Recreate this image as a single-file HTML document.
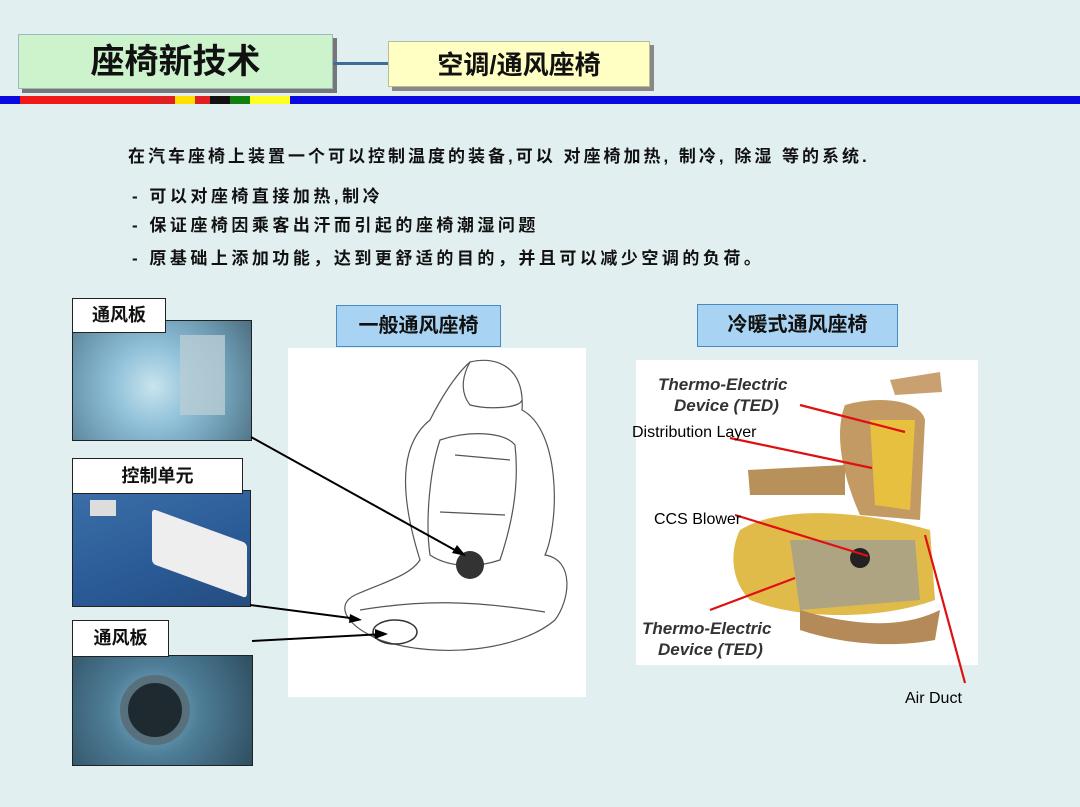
<!DOCTYPE html>
<html><head><meta charset="utf-8"><style>
*{margin:0;padding:0;box-sizing:border-box}
body{width:1080px;height:807px;background:#e2eff1;position:relative;overflow:hidden;font-family:"Liberation Sans","Noto Sans CJK SC",sans-serif}
.a{position:absolute}
.lbl{position:absolute;background:#fff;border:1px solid #222;font-weight:bold;font-size:18px;text-align:center;color:#111}
.tx{position:absolute;font-size:17px;font-weight:bold;color:#111;white-space:nowrap;letter-spacing:3.5px}
.bb{position:absolute;background:#a9d3f2;border:1.5px solid #4a8ac0;font-size:20px;font-weight:bold;text-align:center;color:#111}
</style></head><body>
<div class="a" style="left:22px;top:38px;width:315px;height:55px;background:#777"></div>
<div class="a" style="left:18px;top:34px;width:315px;height:55px;background:#ccf3cc;border:1px solid #9bb;font-size:34px;font-weight:bold;text-align:center;line-height:55px;color:#111">座椅新技术</div>
<div class="a" style="left:333px;top:62px;width:56px;height:3px;background:#3b6f96"></div>
<div class="a" style="left:392px;top:45px;width:262px;height:46px;background:#888"></div>
<div class="a" style="left:388px;top:41px;width:262px;height:46px;background:#ffffc4;border:1px solid #bb9;font-size:26px;font-weight:bold;text-align:center;line-height:46px;color:#111">空调/通风座椅</div>
<div class="a" style="left:0;top:96px;width:1080px;height:8px;background:#0a0ae0"></div>
<div class="a" style="left:20px;top:96px;width:130px;height:8px;background:#f01818"></div>
<div class="a" style="left:150px;top:96px;width:60px;height:8px;background:#e02020"></div>
<div class="a" style="left:175px;top:96px;width:20px;height:8px;background:#ffe000"></div>
<div class="a" style="left:210px;top:96px;width:20px;height:8px;background:#111"></div>
<div class="a" style="left:230px;top:96px;width:20px;height:8px;background:#108010"></div>
<div class="a" style="left:250px;top:96px;width:40px;height:8px;background:#ffff20"></div>

<div class="tx" style="left:128px;top:142px;letter-spacing:3px">在汽车座椅上装置一个可以控制温度的装备,可以 对座椅加热, 制冷, 除湿 等的系统.</div>
<div class="tx" style="left:132px;top:182px">- 可以对座椅直接加热,制冷</div>
<div class="tx" style="left:132px;top:211px">- 保证座椅因乘客出汗而引起的座椅潮湿问题</div>
<div class="tx" style="left:132px;top:244px">- 原基础上添加功能，达到更舒适的目的，并且可以减少空调的负荷。</div>

<div class="a" style="left:72px;top:320px;width:180px;height:121px;border:1px solid #222;background:radial-gradient(circle at 45% 55%,#c8e4ee 0,#8fc0d8 35%,#6a97ae 70%,#4e6e80 100%)"></div>
<div class="a" style="left:180px;top:335px;width:45px;height:80px;background:#b9cdd4;opacity:.8"></div>
<div class="lbl" style="left:72px;top:298px;width:94px;height:35px;line-height:33px">通风板</div>
<div class="a" style="left:72px;top:490px;width:179px;height:117px;border:1px solid #222;background:linear-gradient(160deg,#3b6fa8,#2a5a96 60%,#244c80)"></div>
<div class="a" style="left:152px;top:526px;width:95px;height:55px;background:#eee;border-radius:4px;transform:skewY(20deg)"></div>
<div class="a" style="left:90px;top:500px;width:26px;height:16px;background:#ddd"></div>
<div class="lbl" style="left:72px;top:458px;width:171px;height:36px;line-height:34px">控制单元</div>
<div class="a" style="left:72px;top:655px;width:181px;height:111px;border:1px solid #222;background:radial-gradient(circle at 45% 50%,#8ab8d0 0,#4e7e98 40%,#2f4e60 100%)"></div>
<div class="a" style="left:120px;top:675px;width:70px;height:70px;border-radius:50%;background:#1e2a30;border:8px solid #58707c"></div>
<div class="lbl" style="left:72px;top:620px;width:97px;height:37px;line-height:35px">通风板</div>

<div class="bb" style="left:336px;top:305px;width:165px;height:42px;line-height:40px">一般通风座椅</div>
<div class="bb" style="left:697px;top:304px;width:201px;height:43px;line-height:41px">冷暖式通风座椅</div>

<div class="a" style="left:288px;top:348px;width:298px;height:349px;background:#fff"></div>
<svg class="a" style="left:0;top:0" width="1080" height="807">
<g fill="none" stroke="#555" stroke-width="1.2">
<path d="M470 362 C500 355 525 370 522 410 C560 430 560 520 545 555 C575 560 570 600 555 620 C520 650 440 660 380 640 C345 625 335 605 355 595 C390 580 410 575 420 560 C395 480 405 440 430 420 C440 400 455 375 470 362Z"/>
<path d="M440 440 C470 430 505 432 515 445 C520 490 510 530 500 560 C470 570 445 565 430 555 C425 520 430 470 440 440Z"/>
<path d="M455 455 L510 460 M440 512 L505 515"/>
<path d="M360 610 C420 600 470 600 545 612"/>
<path d="M470 362 C460 380 462 395 470 405 C490 410 520 408 522 400"/>
</g>
<circle cx="470" cy="565" r="14" fill="#333"/>
<ellipse cx="395" cy="632" rx="22" ry="12" fill="none" stroke="#333" stroke-width="1.5"/>
<g stroke="#000" stroke-width="2">
<line x1="251" y1="437" x2="462" y2="554"/>
<line x1="250" y1="605" x2="358" y2="619"/>
<line x1="252" y1="641" x2="385" y2="634"/>
</g>
<polygon points="466,556 452,553 457,545" fill="#000"/>
<polygon points="362,620 349,623 350,614" fill="#000"/>
<polygon points="388,634 375,639 375,629" fill="#000"/>
<rect x="636" y="360" width="342" height="305" fill="#fff"/>
<path d="M890 380 L940 372 L942 392 L895 395Z" fill="#c9a170"/>
<path d="M845 405 C880 395 920 400 925 420 L920 520 L860 515 C840 470 835 430 845 405Z" fill="#c49a64"/>
<path d="M870 420 L915 420 L910 510 L875 505Z" fill="#e8c040"/>
<path d="M748 470 L845 465 L845 495 L750 495Z" fill="#b8905a"/>
<path d="M740 530 C780 505 860 510 930 530 L935 600 C880 620 800 620 750 600 C730 580 730 550 740 530Z" fill="#e0bb4a"/>
<path d="M790 540 L915 540 L920 600 L800 610Z" fill="#9a9a9a" opacity=".7"/>
<path d="M800 610 C850 625 900 630 940 610 L935 640 C880 650 830 640 800 630Z" fill="#b48a58"/>
<circle cx="860" cy="558" r="10" fill="#222"/>
<g stroke="#e01010" stroke-width="2.2">
<line x1="800" y1="405" x2="905" y2="432"/>
<line x1="730" y1="438" x2="872" y2="468"/>
<line x1="735" y1="515" x2="868" y2="556"/>
<line x1="710" y1="610" x2="795" y2="578"/>
<line x1="925" y1="535" x2="965" y2="683"/>
</g>
<g font-family="Liberation Sans,sans-serif">
<text x="658" y="390" font-size="17" font-weight="bold" font-style="italic" fill="#333">Thermo-Electric</text>
<text x="674" y="411" font-size="17" font-weight="bold" font-style="italic" fill="#333">Device (TED)</text>
<text x="632" y="437" font-size="16" fill="#000">Distribution Layer</text>
<text x="654" y="524" font-size="16" fill="#000">CCS Blower</text>
<text x="642" y="634" font-size="17" font-weight="bold" font-style="italic" fill="#333">Thermo-Electric</text>
<text x="658" y="655" font-size="17" font-weight="bold" font-style="italic" fill="#333">Device (TED)</text>
<text x="905" y="703" font-size="16" fill="#000">Air Duct</text>
</g>
</svg>
</body></html>
